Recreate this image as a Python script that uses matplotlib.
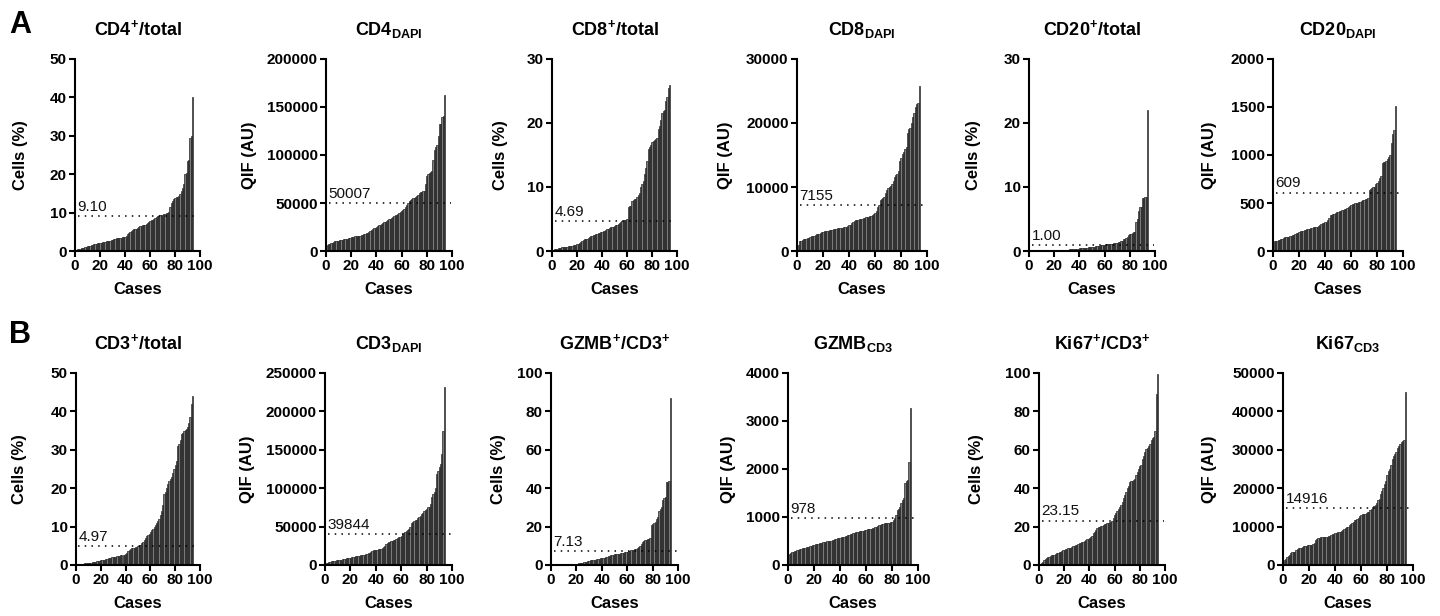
"""
Sorted per-case waterfall bars for 12 immune markers (rows A and B),
with the cut-off value drawn as a dotted line.
"""

import numpy as np
import matplotlib.pyplot as plt

plt.rcParams['font.family'] = ['Liberation Sans', 'DejaVu Sans']
plt.rcParams['font.weight'] = 'bold'
plt.rcParams['mathtext.fontset'] = 'custom'
plt.rcParams['mathtext.rm'] = 'Liberation Sans:bold'
plt.rcParams['mathtext.it'] = 'Liberation Sans:bold'
plt.rcParams['mathtext.bf'] = 'Liberation Sans:bold'

# ---- data (values sorted per case) ----
cd4_pct = [0.3, 0.4, 0.5, 0.6, 0.7, 0.8, 0.9, 1.0, 1.1, 1.2,
           1.3, 1.4, 1.5, 1.6, 1.7, 1.8, 1.9, 2.0, 2.0, 2.1,
           2.2, 2.3, 2.3, 2.4, 2.5, 2.5, 2.6, 2.7, 2.8, 2.9,
           3.1, 3.2, 3.3, 3.3, 3.4, 3.4, 3.5, 3.6, 3.6, 3.7,
           4.0, 4.3, 4.6, 4.9, 5.1, 5.4, 5.6, 5.7, 5.8, 6.0,
           6.2, 6.4, 6.6, 6.7, 6.8, 6.9, 7.0, 7.2, 7.5, 7.8,
           8.0, 8.2, 8.4, 8.6, 8.8, 9.0, 9.2, 9.3, 9.4, 9.5,
           9.6, 9.7, 9.8, 9.9, 10.2, 11.5, 12.5, 13.0, 13.5, 13.8,
           14.0, 14.1, 14.3, 14.8, 15.5, 16.5, 17.5, 20.0, 20.2, 23.5,
           23.6, 29.5, 30.0, 40.0]
cd4_dapi = [6500, 7000, 7500, 8000, 8500, 9500, 10000, 10200, 10500, 10800,
            11000, 11200, 11500, 12000, 12300, 12700, 13000, 13500, 14000, 14200,
            14500, 15000, 15300, 15600, 15800, 16000, 16000, 16200, 17000, 17500,
            18000, 18500, 19000, 20000, 21000, 22000, 23000, 23500, 24000, 25000,
            26000, 27000, 27500, 28500, 29500, 30000, 30500, 31000, 32000, 33000,
            33500, 34000, 35000, 36000, 37000, 38000, 39000, 40000, 41000, 42000,
            43000, 44000, 46000, 48000, 50000, 52000, 53000, 54000, 55000, 55500,
            56000, 57000, 58000, 60000, 61000, 61500, 62000, 62500, 70000, 78000,
            80000, 81000, 82000, 83000, 95000, 105000, 108000, 110000, 120000, 132000,
            132500, 140000, 141000, 163000]
cd8_pct = [0.2, 0.25, 0.3, 0.35, 0.4, 0.45, 0.5, 0.55, 0.6, 0.62,
           0.65, 0.7, 0.72, 0.75, 0.8, 0.85, 0.9, 0.95, 1.0, 1.05,
           1.1, 1.2, 1.35, 1.5, 1.7, 1.8, 1.85, 1.9, 2.0, 2.2,
           2.3, 2.4, 2.5, 2.55, 2.6, 2.7, 2.75, 2.8, 2.9, 3.0,
           3.1, 3.2, 3.3, 3.4, 3.5, 3.6, 3.7, 3.75, 3.8, 3.9,
           4.0, 4.1, 4.2, 4.4, 4.6, 4.7, 4.8, 4.85, 4.9, 5.0,
           6.8, 7.0, 7.1, 7.8, 8.0, 8.1, 8.2, 8.5, 8.8, 9.0,
           10.0, 10.5, 11.0, 12.0, 13.0, 14.0, 16.0, 16.2, 16.5, 17.0,
           17.2, 17.4, 17.5, 17.6, 19.0, 19.5, 20.5, 21.5, 21.8, 22.0,
           23.5, 24.0, 25.5, 26.0]
cd8_dapi = [1000, 1500, 1600, 1700, 1800, 1850, 1900, 2000, 2100, 2200,
            2300, 2350, 2400, 2500, 2600, 2650, 2700, 2800, 2900, 3000,
            3050, 3100, 3150, 3200, 3250, 3300, 3350, 3400, 3450, 3500,
            3520, 3550, 3580, 3600, 3650, 3700, 3750, 3800, 3900, 4000,
            4100, 4300, 4500, 4700, 4800, 4850, 4900, 4950, 5000, 5050,
            5100, 5200, 5250, 5300, 5350, 5400, 5500, 5600, 5800, 6000,
            6200, 6800, 7200, 8000, 8100, 8300, 8500, 9000, 9500, 9800,
            10000, 10200, 10500, 11000, 11500, 11800, 12000, 12500, 14000, 14500,
            15200, 15500, 16000, 16200, 18500, 19000, 19200, 20000, 21000, 21500,
            22500, 23000, 23200, 25800]
cd20_pct = [0.02, 0.03, 0.04, 0.05, 0.05, 0.06, 0.06, 0.07, 0.07, 0.08,
            0.08, 0.09, 0.09, 0.1, 0.1, 0.1, 0.11, 0.11, 0.12, 0.12,
            0.13, 0.14, 0.15, 0.16, 0.17, 0.18, 0.19, 0.2, 0.21, 0.22,
            0.23, 0.25, 0.27, 0.29, 0.3, 0.32, 0.34, 0.36, 0.38, 0.4,
            0.42, 0.44, 0.46, 0.48, 0.5, 0.52, 0.55, 0.58, 0.6, 0.63,
            0.66, 0.7, 0.73, 0.76, 0.8, 0.85, 0.9, 0.95, 1.0, 1.0,
            1.02, 1.05, 1.08, 1.1, 1.12, 1.15, 1.18, 1.2, 1.25, 1.3,
            1.35, 1.4, 1.5, 1.6, 1.8, 1.9, 2.0, 2.2, 2.5, 2.6,
            2.7, 2.8, 2.9, 3.0, 4.5, 5.0, 6.2, 6.8, 6.9, 8.3,
            8.3, 8.4, 8.5, 22.0]
cd20_dapi = [100, 100, 105, 110, 115, 120, 130, 140, 142, 145,
             148, 150, 155, 160, 165, 170, 180, 185, 190, 200,
             205, 210, 212, 215, 220, 225, 228, 232, 236, 240,
             245, 250, 252, 255, 260, 270, 285, 290, 295, 300,
             305, 320, 340, 370, 380, 385, 390, 400, 405, 410,
             415, 420, 425, 430, 435, 440, 445, 455, 465, 480,
             485, 490, 495, 500, 505, 510, 515, 520, 530, 535,
             540, 545, 550, 640, 650, 660, 665, 670, 700, 710,
             730, 760, 780, 920, 925, 930, 940, 960, 980, 1000,
             1130, 1220, 1260, 1510]
cd3_pct = [0.1, 0.15, 0.2, 0.25, 0.3, 0.35, 0.4, 0.45, 0.5, 0.55,
           0.6, 0.65, 0.7, 0.8, 0.85, 0.9, 1.0, 1.05, 1.1, 1.2,
           1.25, 1.3, 1.4, 1.5, 1.6, 1.7, 1.8, 1.9, 2.0, 2.1,
           2.15, 2.2, 2.3, 2.35, 2.4, 2.5, 2.55, 2.6, 2.7, 2.8,
           3.2, 3.6, 4.0, 4.2, 4.3, 4.4, 4.5, 4.6, 4.7, 4.9,
           5.1, 5.3, 5.6, 6.0, 6.5, 7.0, 7.5, 7.8, 8.2, 8.5,
           9.0, 9.5, 10.0, 10.5, 11.0, 11.5, 12.0, 13.0, 14.0, 15.5,
           18.5, 19.0, 20.0, 21.0, 22.0, 22.5, 23.0, 24.0, 25.0, 26.0,
           27.0, 31.0, 31.5, 32.5, 34.0, 34.5, 35.0, 35.2, 35.5, 36.0,
           37.0, 38.5, 42.0, 44.0]
cd3_dapi = [2000, 3000, 3800, 4500, 5000, 5200, 5500, 5800, 6000, 6200,
            6500, 6800, 7000, 7200, 7500, 8000, 8500, 9000, 9200, 9500,
            10000, 10500, 11000, 11300, 11500, 11800, 12000, 12500, 12800, 13000,
            13500, 14000, 14500, 15000, 16000, 17000, 18000, 19000, 19500, 19800,
            20000, 20200, 20500, 21000, 22000, 23000, 24500, 27000, 29000, 29500,
            30000, 31000, 31500, 32000, 32500, 33500, 35000, 36000, 37000, 38000,
            40000, 42000, 43000, 44000, 46000, 47000, 50000, 55000, 56000, 57000,
            58000, 59000, 61000, 62000, 64000, 66000, 68000, 70000, 72000, 73000,
            75000, 76000, 80000, 88000, 92000, 95000, 100000, 118000, 122000, 127000,
            132000, 145000, 175000, 232000]
gzmb_pct = [0.05, 0.08, 0.1, 0.12, 0.15, 0.18, 0.2, 0.22, 0.25, 0.28,
            0.3, 0.32, 0.35, 0.38, 0.4, 0.42, 0.45, 0.5, 0.55, 0.6,
            0.7, 0.8, 0.9, 1.0, 1.2, 1.4, 1.6, 1.8, 2.0, 2.2,
            2.4, 2.5, 2.6, 2.7, 2.8, 3.0, 3.2, 3.3, 3.4, 3.5,
            3.7, 3.9, 4.1, 4.3, 4.5, 4.8, 5.0, 5.2, 5.4, 5.5,
            5.6, 5.7, 5.8, 5.9, 6.0, 6.2, 6.4, 6.6, 6.8, 7.0,
            7.2, 7.4, 7.6, 7.8, 8.0, 8.2, 8.5, 9.0, 9.5, 10.0,
            11.0, 12.0, 12.5, 13.0, 13.2, 13.5, 13.7, 14.0, 21.0, 21.5,
            22.0, 22.5, 24.0, 25.0, 28.0, 29.0, 30.0, 34.0, 35.0, 35.5,
            43.0, 43.2, 43.5, 87.0]
gzmb_cd3 = [230, 250, 270, 280, 290, 300, 310, 320, 330, 340,
            350, 355, 360, 370, 380, 385, 390, 400, 410, 420,
            430, 435, 440, 450, 460, 465, 470, 475, 480, 490,
            495, 500, 510, 520, 530, 540, 550, 555, 560, 570,
            575, 580, 590, 600, 610, 620, 630, 640, 650, 660,
            670, 680, 685, 690, 700, 705, 710, 715, 720, 730,
            740, 745, 750, 760, 770, 780, 790, 800, 815, 830,
            840, 850, 860, 865, 870, 875, 880, 885, 890, 900,
            930, 970, 1050, 1150, 1160, 1200, 1300, 1350, 1400, 1700,
            1750, 1780, 2150, 3280]
ki67_pct = [0.5, 1.0, 1.5, 2.5, 3.0, 3.5, 4.0, 4.3, 4.6, 5.0,
            5.2, 5.4, 5.7, 6.0, 6.5, 6.8, 7.0, 7.3, 7.6, 8.0,
            8.2, 8.4, 8.6, 8.8, 9.0, 9.5, 9.8, 10.0, 10.3, 10.6,
            11.0, 11.2, 11.5, 11.8, 12.0, 12.5, 13.0, 13.5, 13.8, 14.0,
            14.5, 15.0, 16.5, 17.0, 18.0, 19.5, 19.8, 20.0, 20.3, 20.5,
            20.8, 21.2, 21.5, 21.8, 22.0, 22.2, 22.5, 23.0, 24.5, 26.0,
            27.0, 28.0, 29.0, 30.0, 31.0, 33.0, 35.0, 36.5, 38.0, 40.0,
            41.0, 43.0, 43.5, 44.0, 44.5, 45.0, 47.0, 48.5, 50.0, 51.5,
            52.0, 55.0, 57.0, 59.0, 60.5, 61.0, 62.0, 63.0, 65.0, 66.0,
            66.5, 70.0, 89.0, 99.5]
ki67_cd3 = [1300, 1600, 2000, 2300, 2600, 3000, 3300, 3400, 3500, 3800,
            4200, 4300, 4400, 4500, 4700, 4900, 5000, 5000, 5100, 5100,
            5200, 5300, 5400, 5800, 6400, 6800, 7000, 7100, 7200, 7300,
            7300, 7300, 7300, 7400, 7500, 7600, 7800, 8000, 8200, 8300,
            8400, 8500, 8600, 8700, 8900, 9200, 9400, 9600, 9800, 10000,
            10300, 10600, 11000, 11300, 11600, 11800, 12000, 12300, 12700, 13000,
            13200, 13300, 13400, 13500, 13700, 13900, 14200, 14600, 15000, 15300,
            15700, 16200, 16800, 17200, 18500, 19200, 20000, 21000, 22000, 23500,
            24500, 25000, 26000, 27500, 28500, 29000, 29500, 30500, 31000, 31500,
            32000, 32200, 32500, 45000]

series = [cd4_pct, cd4_dapi, cd8_pct, cd8_dapi, cd20_pct, cd20_dapi,
          cd3_pct, cd3_dapi, gzmb_pct, gzmb_cd3, ki67_pct, ki67_cd3]
titles = [r'CD4$^{+}$/total', r'CD4$_{\mathrm{DAPI}}$', r'CD8$^{+}$/total',
          r'CD8$_{\mathrm{DAPI}}$', r'CD20$^{+}$/total', r'CD20$_{\mathrm{DAPI}}$',
          r'CD3$^{+}$/total', r'CD3$_{\mathrm{DAPI}}$', r'GZMB$^{+}$/CD3$^{+}$',
          r'GZMB$_{\mathrm{CD3}}$', r'Ki67$^{+}$/CD3$^{+}$', r'Ki67$_{\mathrm{CD3}}$']
ylabels = ['Cells (%)', 'QIF (AU)'] * 6
cutoffs = [9.10, 50007, 4.69, 7155, 1.00, 609, 4.97, 39844, 7.13, 978, 23.15, 14916]
cutoff_labels = ['9.10', '50007', '4.69', '7155', '1.00', '609',
                 '4.97', '39844', '7.13', '978', '23.15', '14916']
ymax = [50, 200000, 30, 30000, 30, 2000, 50, 250000, 100, 4000, 100, 50000]
ystep = [10, 50000, 10, 10000, 10, 500, 10, 50000, 20, 1000, 20, 10000]

# ---- layout (pixels of a 1440x616 canvas) ----
W, H = 1440., 616.
left_px = [75, 326, 552, 797, 1029, 1273, 76, 325, 551, 788, 1039, 1283]
width_px = [125, 126, 125, 130, 126, 130, 124, 127, 127, 130, 126, 130]
row_top = [59, 373]
row_bot = [251, 565]
ylab_x = [-0.376, -0.548, -0.352, -0.49, -0.38, -0.43,
          -0.395, -0.55, -0.354, -0.40, -0.44, -0.51]

fig = plt.figure(figsize=(14.4, 6.16), dpi=100)

for i, vals in enumerate(series):
    r = i // 6
    ax = fig.add_axes([left_px[i] / W, 1 - row_bot[r] / H,
                       width_px[i] / W, (row_bot[r] - row_top[r]) / H])
    x = np.arange(1, len(vals) + 1)
    ax.bar(x, vals, width=1.0, color='#7a7a7a', edgecolor='#151515', linewidth=0.45)
    ax.hlines(cutoffs[i], 2, 99, colors='black', linestyles=(0, (1, 3.4)), linewidth=1.1)
    ax.annotate(cutoff_labels[i], (2, cutoffs[i]), xytext=(0, 1.5), textcoords='offset points',
                ha='left', va='bottom', fontsize=11, fontweight='normal', color='#111111')

    ax.set_xlim(0, 100)
    ax.set_ylim(0, ymax[i])
    ax.set_xticks(np.arange(0, 101, 20))
    ax.set_yticks(np.arange(0, ymax[i] + ystep[i], ystep[i]))
    for s in ['top', 'right']:
        ax.spines[s].set_visible(False)
    for s in ['left', 'bottom']:
        ax.spines[s].set_linewidth(1.5)
    ax.tick_params(width=1.5, length=4, labelsize=11, pad=2)
    for lab in ax.get_xticklabels() + ax.get_yticklabels():
        lab.set_fontweight('bold')

    ax.set_title(titles[i], fontsize=13, fontweight='bold', pad=17)
    ax.set_xlabel('Cases', fontsize=12, fontweight='bold', labelpad=6)
    ax.set_ylabel(ylabels[i], fontsize=12, fontweight='bold')
    ax.yaxis.set_label_coords(ylab_x[i], 0.5)

fig.text(9 / W, 1 - 33 / H, 'A', fontsize=22, fontweight='bold', ha='left', va='baseline')
fig.text(9 / W, 1 - 343 / H, 'B', fontsize=22, fontweight='bold', ha='left', va='baseline')

fig.savefig('out.png', dpi=100, facecolor='white')
